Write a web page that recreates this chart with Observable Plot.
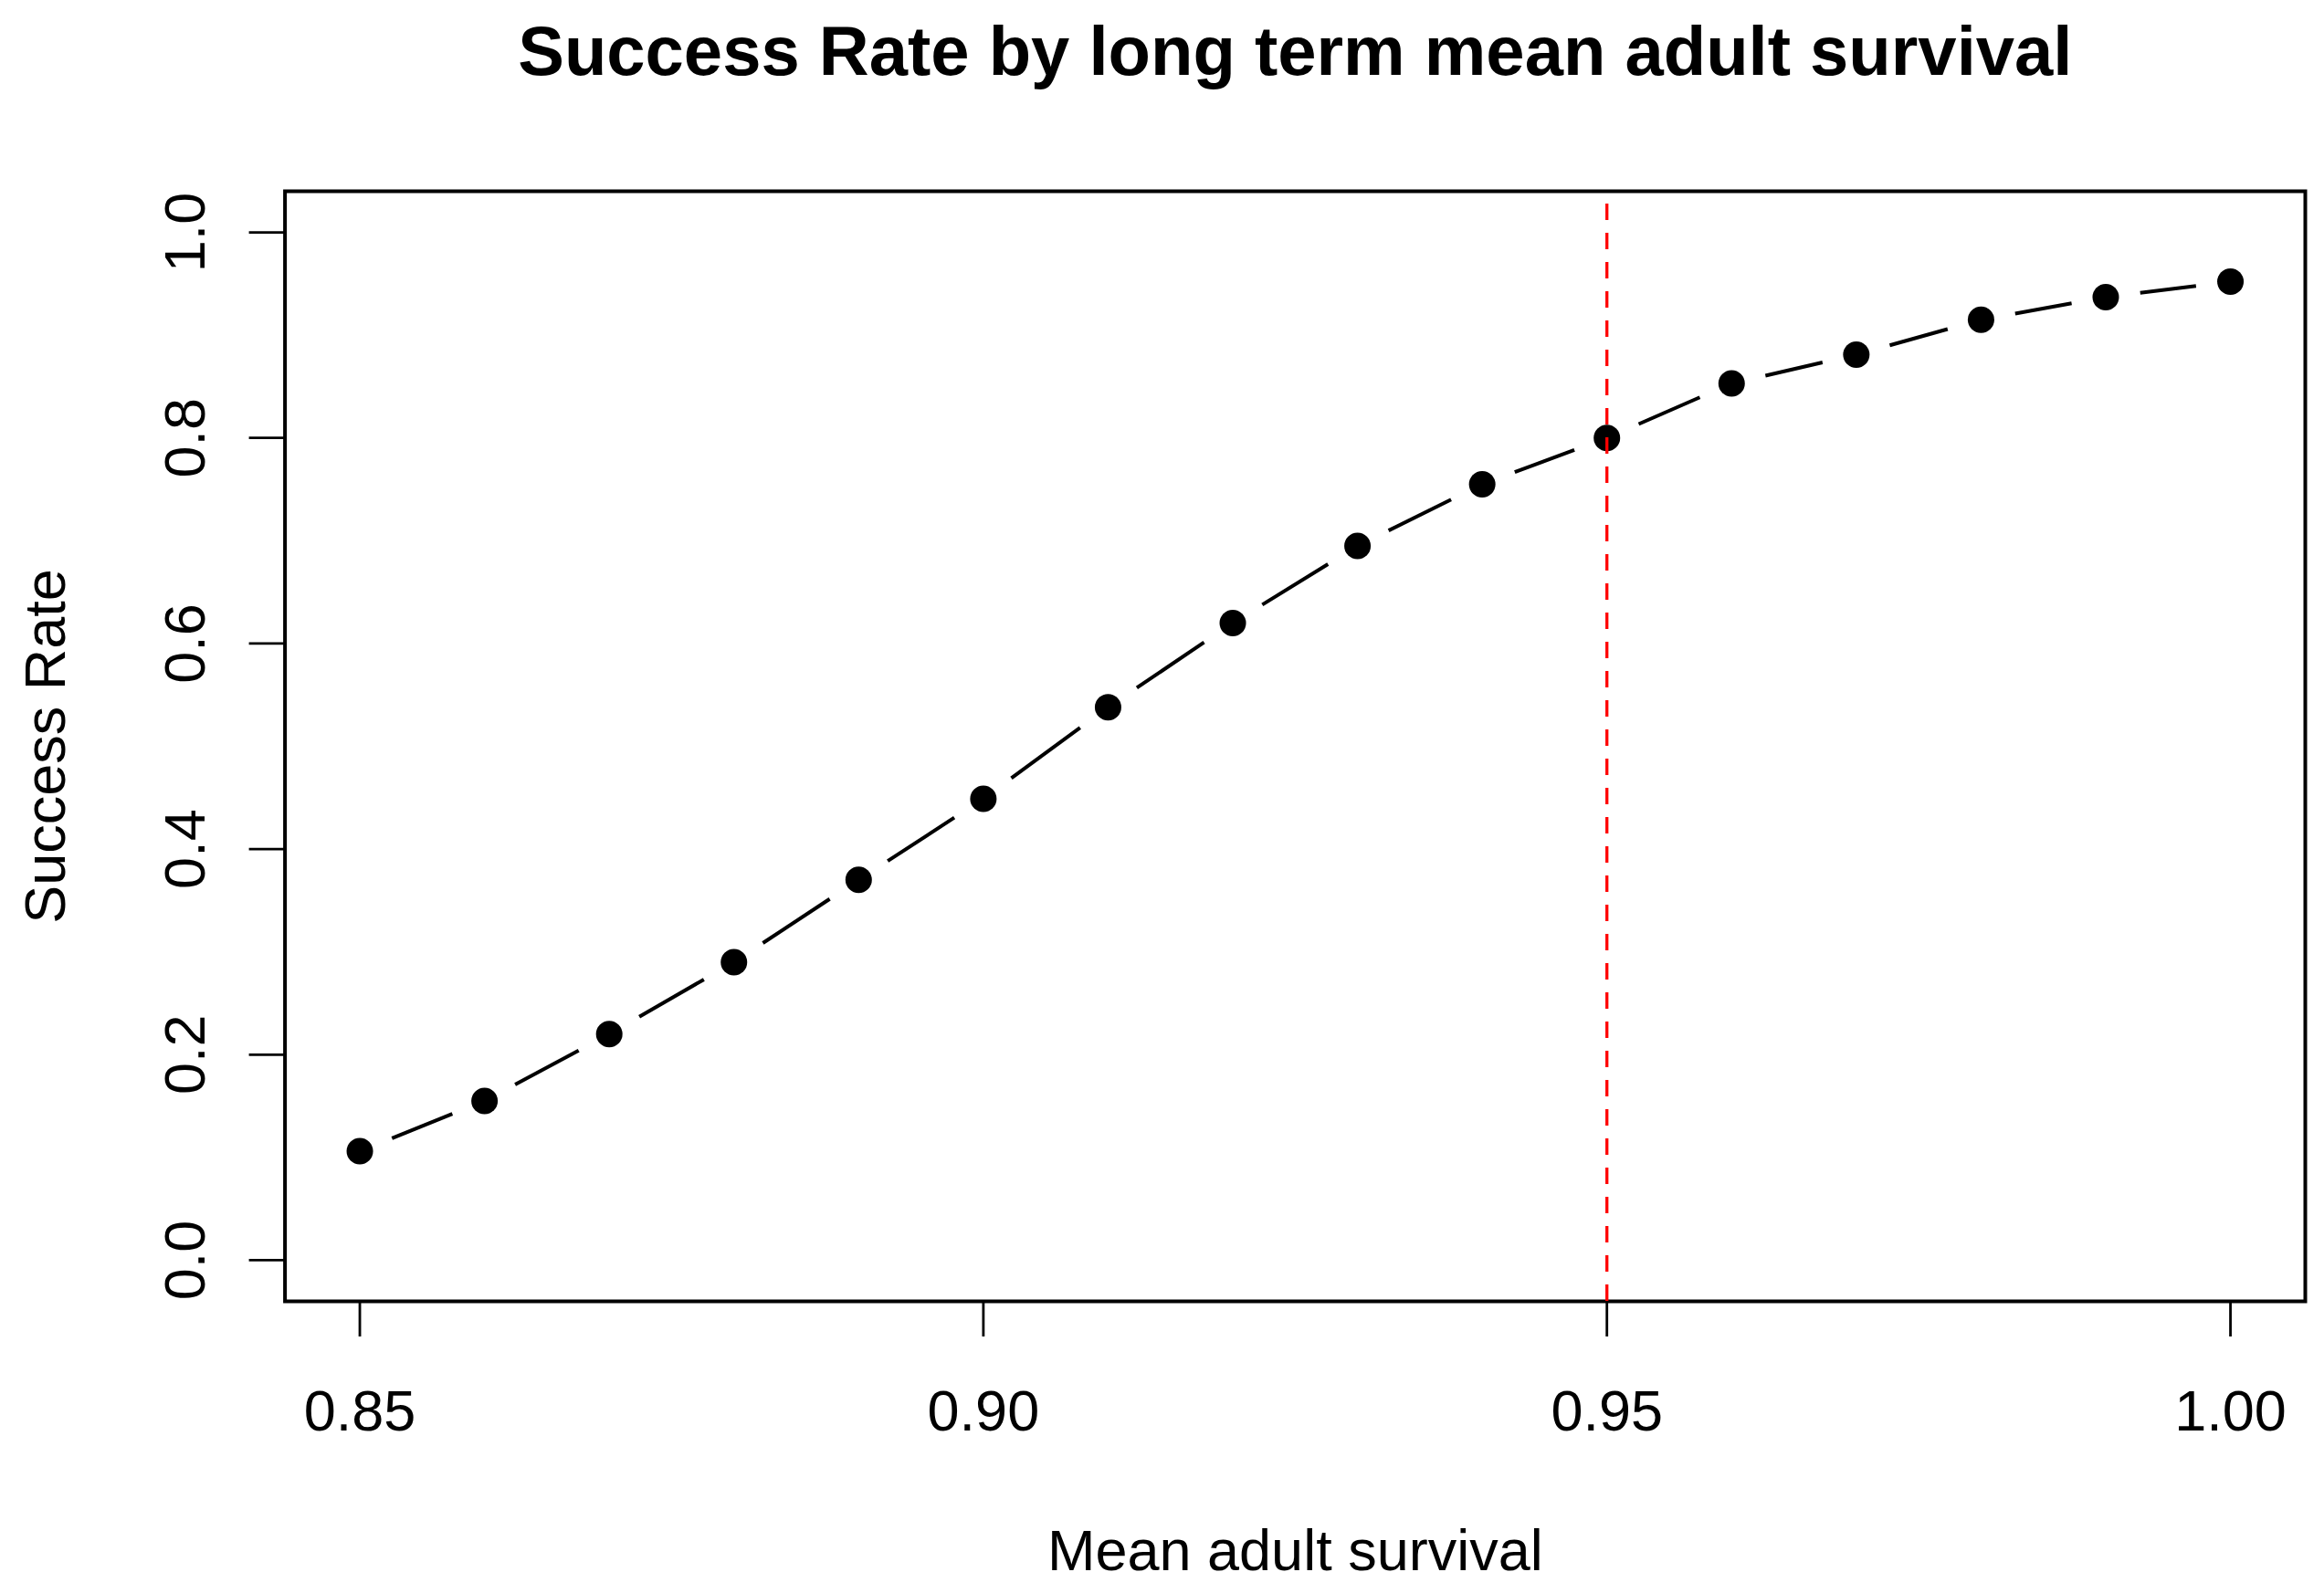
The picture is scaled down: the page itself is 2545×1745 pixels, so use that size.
<!DOCTYPE html>
<html>
<head>
<meta charset="utf-8">
<script src="https://cdn.jsdelivr.net/npm/d3@7"></script>
<script src="https://cdn.jsdelivr.net/npm/@observablehq/plot@0.6"></script>
<style>
  html, body { margin: 0; padding: 0; background: white; overflow: hidden; }
</style>
</head>
<body>
<div id="chart"></div>
<script>
// Data
const survival = [0.85, 0.86, 0.87, 0.88, 0.89, 0.90, 0.91, 0.92, 0.93, 0.94, 0.95, 0.96, 0.97, 0.98, 0.99, 1.00];
const successRate = [0.106, 0.155, 0.220, 0.290, 0.370, 0.449, 0.538, 0.620, 0.695, 0.755, 0.800, 0.853, 0.881, 0.915, 0.937, 0.952];
const xTicks = [0.85, 0.90, 0.95, 1.00];
const yTicks = [0.0, 0.2, 0.4, 0.6, 0.8, 1.0];
const referenceSurvival = [0.95];
const titleText = "Success Rate by long term mean adult survival";
const xLabel = "Mean adult survival";
const yLabel = "Success Rate";

const points = survival.map((s, i) => ({x: s, y: successRate[i]}));
const segments = d3.pairs(points).map(([a, b]) => ({x1: a.x, y1: a.y, x2: b.x, y2: b.y}));

const W = 2545, H = 1745;
const mL = 311.6, mR = 21, mT = 209, mB = 320;
const FS = 63;

const chart = Plot.plot({
  width: W,
  height: H,
  marginLeft: mL,
  marginRight: mR,
  marginTop: mT,
  marginBottom: mB,
  style: {fontFamily: "'Liberation Sans', Arial, sans-serif", background: "white", color: "black"},
  x: {domain: [0.844, 1.006]},
  y: {domain: [-0.04, 1.04]},
  marks: [
    Plot.frame({stroke: "black", strokeWidth: 4}),
    Plot.axisX({ticks: xTicks, tickSize: 39, strokeWidth: 2.8, tickFormat: () => "", label: null}),
    Plot.axisY({ticks: yTicks, tickSize: 39, strokeWidth: 2.8, tickFormat: () => "", label: null}),
    Plot.text(xTicks, {x: d => d, text: d => d.toFixed(2), frameAnchor: "bottom", dy: 141, lineAnchor: "bottom", fontSize: FS}),
    Plot.text(yTicks, {y: d => d, text: d => d.toFixed(1), frameAnchor: "left", dx: -88.6, rotate: -90, textAnchor: "middle", lineAnchor: "bottom", fontSize: FS}),
    Plot.text([xLabel], {frameAnchor: "bottom", dy: 294.6, lineAnchor: "bottom", fontSize: FS}),
    Plot.text([yLabel], {frameAnchor: "left", dx: -241.6, rotate: -90, textAnchor: "middle", lineAnchor: "bottom", fontSize: FS}),
    Plot.text([titleText], {frameAnchor: "top", dy: 81.7 - mT, lineAnchor: "bottom", fontSize: 76, fontWeight: "bold"}),
    Plot.arrow(segments, {x1: "x1", y1: "y1", x2: "x2", y2: "y2", insetStart: 38, insetEnd: 38, headLength: 0, stroke: "black", strokeWidth: 4, strokeLinecap: "butt"}),
    Plot.dot(points, {x: "x", y: "y", r: 14.5, fill: "black", stroke: "none"}),
    Plot.ruleX(referenceSurvival, {stroke: "#ff0000", strokeWidth: 3.3, strokeDasharray: "18,14", strokeDashoffset: 18})
  ]
});
document.getElementById("chart").appendChild(chart);
</script>
</body>
</html>
